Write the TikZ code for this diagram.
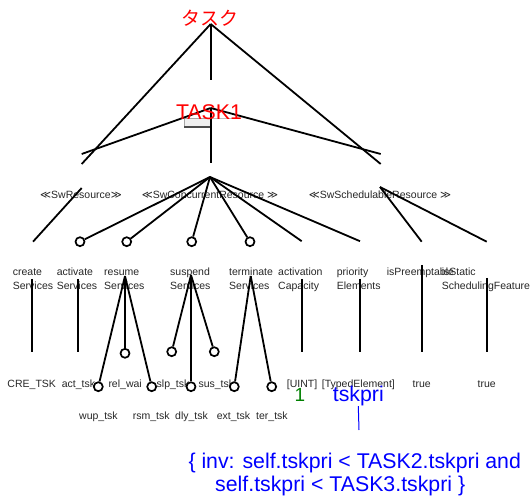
\documentclass[tikz,border=0pt]{standalone}
\usepackage{fontspec}
\setmainfont{Liberation Sans}
\newfontfamily\cjkfont{Noto Sans CJK JP}
\newfontfamily\symfont{DejaVu Sans}
\newcommand{\stsym}[1]{{\symfont #1}}
\definecolor{dkgreen}{RGB}{0,128,0}
\begin{document}
\begin{tikzpicture}[x=1pt,y=-1pt,
  ln/.style={line width=1.8pt, black},
  circ/.style={circle, draw=black, line width=1.7pt, fill=white, minimum size=9pt, inner sep=0pt},
  small/.style={font=\fontsize{10.5}{14}\selectfont, text=black!85, inner sep=0pt},
  lbl/.style={small, align=left, anchor=north west},
  val/.style={small, anchor=base west},
  valc/.style={small, anchor=base},
  stereo/.style={small, anchor=base},
  big/.style={font=\fontsize{21.3}{23.5}\selectfont, inner sep=0pt}]
\useasboundingbox (0,0) rectangle (531,500);

% ---- top hierarchy ----
\coordinate (t0) at (210.7,24);
\coordinate (t0l) at (81.7,164);
\coordinate (t0r) at (380.7,164);
\coordinate (t0d) at (210.7,80);
\coordinate (t1) at (210.7,108);
\coordinate (t1l) at (81.7,154);
\coordinate (t1r) at (380.7,154);
\coordinate (t1d) at (210.7,163);

\draw[ln] (t0) -- (t0l);
\draw[ln] (t0) -- (t0r);
\draw[ln] (t0) -- (t0d);

% small tab under TASK1
\draw[gray!50, line width=0.6pt] (181,118) -- (232,118);
\node[draw=gray!70, fill=gray!12, line width=0.6pt, minimum width=26pt, minimum height=8pt, inner sep=0pt, anchor=north east] (tab) at (210.7,118.5) {};
\draw[black!70, line width=1.2pt] (tab.south west) -- (tab.south east);

\draw[ln] (t1) -- (t1l);
\draw[ln] (t1) -- (t1r);
\draw[ln] (t1) -- (t1d);

\node[font=\cjkfont\fontsize{19}{22}\selectfont, text=red, inner sep=0pt] (tasuku) at (210,18) {タスク};
\node[big, text=red] (task1) at (209,112) {TASK1};

% ---- stereotypes ----
\node[stereo] (swres) at (81,199) {\stsym{≪}SwResource\stsym{≫}};
\node[stereo] (swcon) at (210,199) {\stsym{≪}SwConcurrentResource \stsym{≫}};
\node[stereo] (swsch) at (380,199) {\stsym{≪}SwSchedulableResource \stsym{≫}};

\coordinate (sr) at (81.7,188);
\coordinate (sc) at (210,177);
\coordinate (ss) at (380,187);

% ends at second row
\coordinate (createTop) at (33,241.7);
\coordinate (capTop) at (301.7,241.2);
\coordinate (priTop) at (360,241.2);
\coordinate (preTop) at (421.7,241.7);
\coordinate (statTop) at (486.7,241.7);

\node[circ] (cAct) at (80,241.7) {};
\node[circ] (cRes) at (126.7,241.7) {};
\node[circ] (cSus) at (191.7,241.7) {};
\node[circ] (cTer) at (250,241.7) {};

\draw[ln] (sr) -- (createTop);
\draw[ln] (sc) -- (cAct);
\draw[ln] (sc) -- (cRes);
\draw[ln] (sc) -- (cSus);
\draw[ln] (sc) -- (cTer);
\draw[ln] (sc) -- (capTop);
\draw[ln] (sc) -- (priTop);
\draw[ln] (ss) -- (preTop);
\draw[ln] (ss) -- (statTop);

% ---- attribute labels ----
\node[lbl] (lCreate) at (12.7,265.2) {\strut create\\Services};
\node[lbl] (lAct) at (56.7,265.2) {\strut activate\\Services};
\node[lbl] (lRes) at (104,265.2) {\strut resume\\Services};
\node[lbl] (lSus) at (170,265.2) {\strut suspend\\Services};
\node[lbl] (lTer) at (229,265.2) {\strut terminate\\Services};
\node[lbl] (lCap) at (278,265.2) {\strut activation\\Capacity};
\node[lbl] (lPri) at (336.7,265.2) {\strut priority\\Elements};
\node[lbl] (lPre) at (386.7,265.2) {\strut isPreemptable};
\node[lbl] (lStat) at (441.7,265.2) {\strut isStatic\\SchedulingFeature};

% ---- vertical connectors ----
\coordinate (vCreate) at (32.3,279);
\coordinate (vAct) at (78.3,279);
\coordinate (vCap) at (301.7,279);
\coordinate (vPri) at (360,279);
\coordinate (vPre) at (421.7,265);
\coordinate (vStat) at (486.7,278);
\coordinate (bCreate) at (32.3,351.7);
\coordinate (bAct) at (78.3,351.7);
\coordinate (bCap) at (301.7,351.7);
\coordinate (bPri) at (360,351.7);
\coordinate (bPre) at (421.7,351.7);
\coordinate (bStat) at (486.7,351.7);
\draw[ln] (vCreate) -- (bCreate);
\draw[ln] (vAct) -- (bAct);
\draw[ln] (vCap) -- (bCap);
\draw[ln] (vPri) -- (bPri);
\draw[ln] (vPre) -- (bPre);
\draw[ln] (vStat) -- (bStat);

\coordinate (aRes) at (125,276);
\coordinate (aSus) at (191,275);
\coordinate (aTer) at (250.7,276);

% ---- values ----
\node[val] (vCRE) at (7.3,387) {CRE\_TSK};
\node[val] (vact) at (61.7,387) {act\_tsk};
\node[val] (vrel) at (108.3,387) {rel\_wai};
\node[val] (vslp) at (156.5,387) {slp\_tsk};
\node[val] (vsus) at (198.3,387) {sus\_tsk};
\node[val] (vUINT) at (286.7,387) {[UINT]};
\node[val] (vTyped) at (321.7,387) {[TypedElement]};
\node[valc] (vTrue1) at (421.7,387) {true};
\node[valc] (vTrue2) at (486.7,387) {true};

\node[val] (vwup) at (79,419) {wup\_tsk};
\node[val] (vrsm) at (132.7,419) {rsm\_tsk};
\node[val] (vdly) at (175,419) {dly\_tsk};
\node[val] (vext) at (216.7,419) {ext\_tsk};
\node[val] (vter) at (256,419) {ter\_tsk};

\node[circ] (cWup) at (98.3,386.7) {};
\node[circ] (cRel) at (125,353.3) {};
\node[circ] (cRsm) at (151.7,386.7) {};
\node[circ] (cSlp) at (171.7,351.7) {};
\node[circ] (cDly) at (191,386.7) {};
\node[circ] (cSusT) at (214.3,351.7) {};
\node[circ] (cExt) at (234.3,386.7) {};
\node[circ] (cTerT) at (271.7,386.7) {};

\draw[ln] (aRes) -- (cWup);
\draw[ln] (aRes) -- (cRel);
\draw[ln] (aRes) -- (cRsm);
\draw[ln] (aSus) -- (cSlp);
\draw[ln] (aSus) -- (cDly);
\draw[ln] (aSus) -- (cSusT);
\draw[ln] (aTer) -- (cExt);
\draw[ln] (aTer) -- (cTerT);

% ---- green 1, tskpri, constraint ----
\node[font=\fontsize{19}{22}\selectfont, text=dkgreen, inner sep=0pt, anchor=base] (one) at (300,401.7) {1};
\node[big, text=blue, anchor=base] (tskpri) at (358.3,401.5) {tskpri};
\coordinate (cons) at (359,430);
\draw[blue, line width=1pt] (tskpri.south) -- (cons);
\node[big, text=blue, align=left, anchor=base west] (inv) at (188.3,491.5)
  {\{ inv: self.tskpri < TASK2.tskpri and\\\hspace*{26.7pt}self.tskpri < TASK3.tskpri \}};
\end{tikzpicture}
\end{document}
